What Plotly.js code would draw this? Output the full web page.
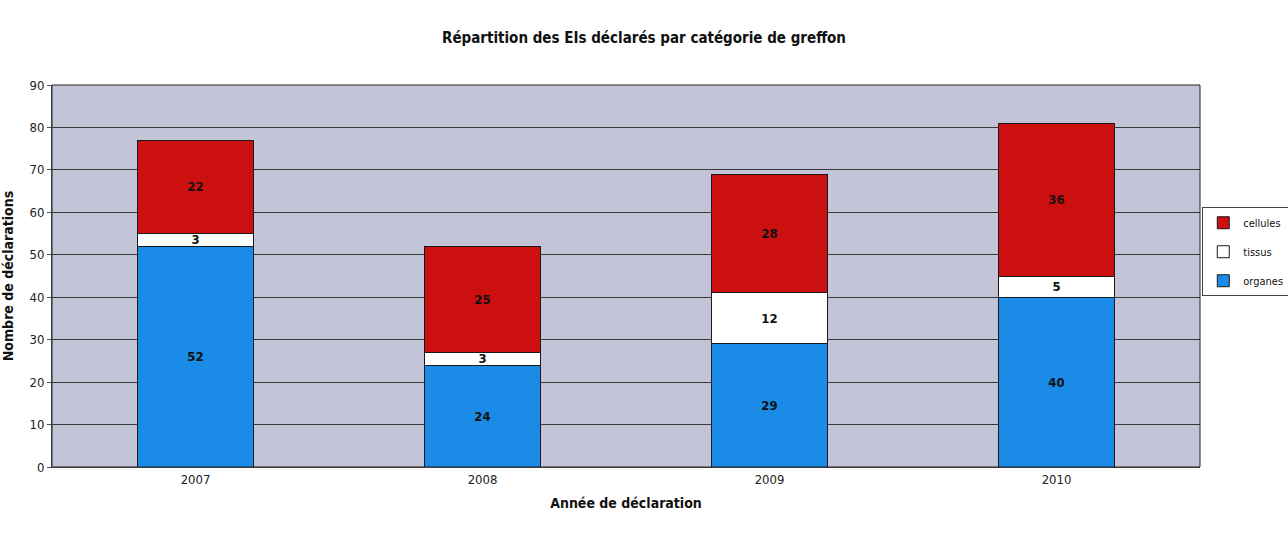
<!DOCTYPE html>
<html>
<head>
<meta charset="utf-8">
<script src="https://cdn.plot.ly/plotly-3.0.1.min.js"></script>
<style>html,body{margin:0;padding:0;background:#fff;}#chart{width:1288px;height:542px;}</style>
</head>
<body>
<div id="chart"></div>
<script>
const years = ['2007', '2008', '2009', '2010'];
const organes = [52, 24, 29, 40];
const tissus = [3, 3, 12, 5];
const cellules = [22, 25, 28, 36];
const seriesNames = ['organes', 'tissus', 'cellules'];
const yTicks = [0, 10, 20, 30, 40, 50, 60, 70, 80, 90];

const FONT = 'DejaVu Sans Condensed, Liberation Sans Narrow, Arial Narrow, Liberation Sans, sans-serif';
const line = {color: '#1a1a1a', width: 1};

function trace(name, vals, color, rank) {
  return {
    type: 'bar', name: name, x: years, y: vals, legendgroup: name, legendrank: rank,
    marker: {color: color, line: line},
    text: vals.map(String), textposition: 'inside', insidetextanchor: 'middle', textangle: 0,
    textfont: {family: FONT, size: 13, color: '#111', weight: 'bold'},
    hoverinfo: 'x+y+name'
  };
}

const data = [
  trace(seriesNames[0], organes, '#1b8be8', 3),
  trace(seriesNames[1], tissus, '#ffffff', 2),
  trace(seriesNames[2], cellules, '#cc0f0f', 1)
];

const layout = {
  width: 1288, height: 542,
  margin: {l: 52, r: 88, t: 85, b: 75, autoexpand: false},
  paper_bgcolor: '#ffffff',
  plot_bgcolor: '#c4c4d8',
  barmode: 'stack',
  bargap: 0.595,
  uniformtext: {mode: 'show', minsize: 13},
  font: {family: FONT, color: '#111', size: 13},
  title: {text: '<b>Répartition des EIs déclarés par catégorie de greffon</b>', x: 0.5, xanchor: 'center', y: 0.93, yanchor: 'middle', font: {family: FONT, size: 15, color: '#111'}},
  xaxis: {
    type: 'category',
    title: {text: '<b>Année de déclaration</b>', font: {family: FONT, size: 14, color: '#111'}, standoff: 12},
    tickfont: {family: FONT, size: 13, color: '#222'},
    showline: true, linecolor: '#555', linewidth: 1, ticks: '', showgrid: false
  },
  yaxis: {
    range: [0, 90], tickvals: yTicks, ticktext: yTicks.map(String),
    title: {text: '<b>Nombre de déclarations</b>', font: {family: FONT, size: 14, color: '#111'}, standoff: 12},
    tickfont: {family: FONT, size: 13, color: '#222'},
    showgrid: true, gridcolor: '#3a3a3a', gridwidth: 1,
    showline: true, linecolor: '#555', linewidth: 1, ticks: 'outside', ticklen: 4, tickcolor: '#555',
    zeroline: false
  },
  legend: {
    x: 1.002, xanchor: 'left', y: 0.68, yanchor: 'top',
    traceorder: 'grouped',
    bgcolor: '#ffffff', bordercolor: '#444', borderwidth: 1,
    font: {family: FONT, size: 11, color: '#111'},
    itemwidth: 30, tracegroupgap: 10
  },
  showlegend: true,
  shapes: [
    {type: 'rect', xref: 'paper', yref: 'paper', x0: 0, x1: 1, y0: 0, y1: 1, line: {color: '#222', width: 1}, fillcolor: 'rgba(0,0,0,0)', layer: 'above'}
  ]
};

Plotly.newPlot('chart', data, layout, {displayModeBar: false, staticPlot: true});
</script>
</body>
</html>
